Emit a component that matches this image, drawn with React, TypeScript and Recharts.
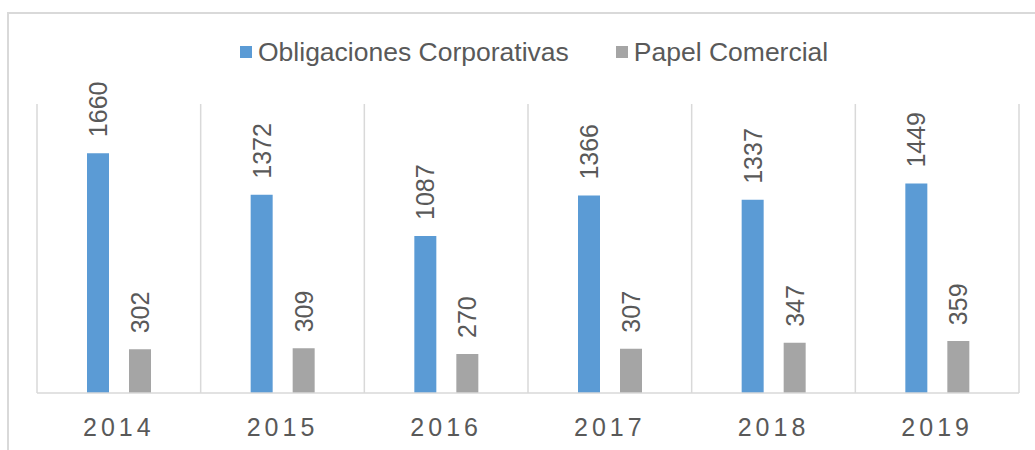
import React from "react";
import {
  BarChart,
  Bar,
  XAxis,
  YAxis,
  CartesianGrid,
  Legend,
  LabelList,
} from "recharts";

const years = ["2014", "2015", "2016", "2017", "2018", "2019"];
const obligaciones = [1660, 1372, 1087, 1366, 1337, 1449];
const papel = [302, 309, 270, 307, 347, 359];

const data = years.map((year, i) => ({
  year,
  obligaciones: obligaciones[i],
  papel: papel[i],
}));

const FONT = "'Liberation Sans', Arial, sans-serif";
const TEXT = "#595959";
const GRID = "#d9d9d9";

const RotatedLabel = (props: any) => {
  const { x, y, width, value } = props;
  const cx = x + width / 2;
  const cy = y - 16;
  return (
    <text
      x={cx}
      y={cy}
      transform={`rotate(-90 ${cx} ${cy})`}
      textAnchor="start"
      dominantBaseline="central"
      fill={TEXT}
      fontSize={25}
      fontFamily={FONT}
    >
      {value}
    </text>
  );
};

const LegendContent = ({ payload }: any) => (
  <div
    style={{
      display: "flex",
      alignItems: "center",
      fontFamily: FONT,
      fontSize: 26.5,
      lineHeight: "28px",
      color: TEXT,
      whiteSpace: "nowrap",
    }}
  >
    {(payload || []).map((entry: any, i: number) => (
      <div
        key={entry.value}
        style={{
          display: "flex",
          alignItems: "center",
          marginRight: i === 0 ? 47 : 0,
        }}
      >
        <span
          style={{
            display: "inline-block",
            width: 12,
            height: 12,
            background: entry.color,
            marginRight: 6,
          }}
        />
        <span>{entry.value}</span>
      </div>
    ))}
  </div>
);

export default function App() {
  return (
    <div>
      <div
        style={{
          position: "absolute",
          left: 7,
          top: 12,
          width: 1028,
          height: 438,
          borderTop: `2px solid ${GRID}`,
          borderLeft: `2px solid ${GRID}`,
          boxSizing: "border-box",
        }}
      />
      <div style={{ position: "absolute", left: 0, top: 0 }}>
        <BarChart
          width={1035}
          height={450}
          data={data}
          margin={{ top: 104, right: 16, left: 37, bottom: 0 }}
          barSize={22}
          barGap={20}
        >
          <CartesianGrid
            horizontal={false}
            stroke={GRID}
            strokeWidth={1.5}
            verticalCoordinatesGenerator={({ offset }: any) =>
              years
                .concat([""])
                .map((_, i) => offset.left + (i * offset.width) / years.length)
            }
          />
          <XAxis
            dataKey="year"
            height={57}
            axisLine={{ stroke: GRID, strokeWidth: 1.5 }}
            tickLine={false}
            tickSize={0}
            tickMargin={25}
            tick={{
              fill: TEXT,
              fontSize: 25,
              fontFamily: FONT,
              letterSpacing: 4,
            }}
          />
          <YAxis hide domain={[0, 2000]} width={0} />
          <Legend
            verticalAlign="middle"
            align="center"
            content={<LegendContent />}
            wrapperStyle={{ top: 38, left: 240, width: "auto" }}
          />
          <Bar
            dataKey="obligaciones"
            name="Obligaciones Corporativas"
            fill="#5b9bd5"
            isAnimationActive={false}
          >
            <LabelList dataKey="obligaciones" content={<RotatedLabel />} />
          </Bar>
          <Bar
            dataKey="papel"
            name="Papel Comercial"
            fill="#a5a5a5"
            isAnimationActive={false}
          >
            <LabelList dataKey="papel" content={<RotatedLabel />} />
          </Bar>
        </BarChart>
      </div>
    </div>
  );
}
